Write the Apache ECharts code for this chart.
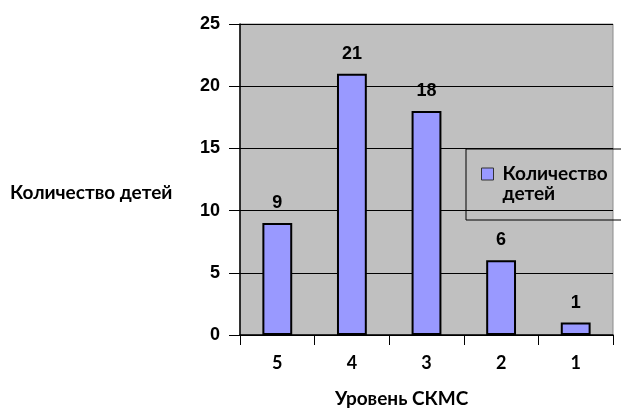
<!DOCTYPE html>
<html><head><meta charset="utf-8">
<script src="https://cdn.jsdelivr.net/npm/echarts@6/dist/echarts.min.js"></script>
<style>html,body{margin:0;padding:0;background:#fff}#c{width:621px;height:410px}</style>
</head><body><div id="c"></div>
<script>
const categories = ['5', '4', '3', '2', '1'];
const values = [9, 21, 18, 6, 1];
const seriesName = 'Количество детей';
const yTitle = 'Количество детей';
const xTitle = 'Уровень СКМС';

const chart = echarts.init(document.getElementById('c'), null, {renderer: 'canvas'});
const F = 'Lato, "Noto Sans", sans-serif';
const A = '"Liberation Sans", Arial, sans-serif';
chart.setOption({
  animation: false,
  backgroundColor: '#ffffff',
  grid: {left: 240, right: 8, top: 24, bottom: 75, show: true, backgroundColor: '#c0c0c0', borderColor: '#8c8c8c', borderWidth: 1},
  legend: {
    left: 481, top: 144,
    orient: 'vertical',
    padding: 0,
    itemWidth: 12, itemHeight: 12,
    icon: 'rect',
    itemStyle: {borderColor: '#333', borderWidth: 1},
    formatter: n => '\u00a0\n' + n.replace(' ', '\n'),
    textStyle: {fontFamily: F, fontWeight: 'bold', fontSize: 19, color: '#000', lineHeight: 20, padding: [0, 0, 0, 4]},
    data: [seriesName]
  },
  graphic: [
    {type: 'rect', shape: {x: 466, y: 149, width: 170, height: 71}, style: {fill: 'none', stroke: '#000', lineWidth: 1}, z: 10},
    {type: 'text', left: 10, top: 183, style: {text: yTitle, font: 'bold 19px ' + F, fill: '#000'}},
    {type: 'text', left: 335, top: 389, style: {text: xTitle, font: 'bold 19px ' + F, fill: '#000'}}
  ],
  xAxis: {
    type: 'category', data: categories,
    axisLine: {lineStyle: {color: '#000', width: 1.5}},
    axisTick: {show: true, length: 10, lineStyle: {color: '#000'}},
    axisLabel: {margin: 19, fontFamily: F, fontWeight: 'bold', fontSize: 18, color: '#000'}
  },
  yAxis: {
    type: 'value', min: 0, max: 25, interval: 5,
    axisLine: {show: true, lineStyle: {color: '#000', width: 1.5}},
    axisTick: {show: true, length: 11, lineStyle: {color: '#000'}},
    splitLine: {show: true, lineStyle: {color: '#000', width: 1}},
    axisLabel: {margin: 20, fontFamily: A, fontWeight: 'bold', fontSize: 18, color: '#000'}
  },
  series: [{
    name: seriesName, type: 'bar', data: values, barWidth: '40%',
    itemStyle: {color: '#9999ff', borderColor: '#000', borderWidth: 2},
    label: {show: true, position: 'top', distance: 11, fontFamily: A, fontWeight: 'bold', fontSize: 18, color: '#000'}
  }]
});
</script></body></html>
